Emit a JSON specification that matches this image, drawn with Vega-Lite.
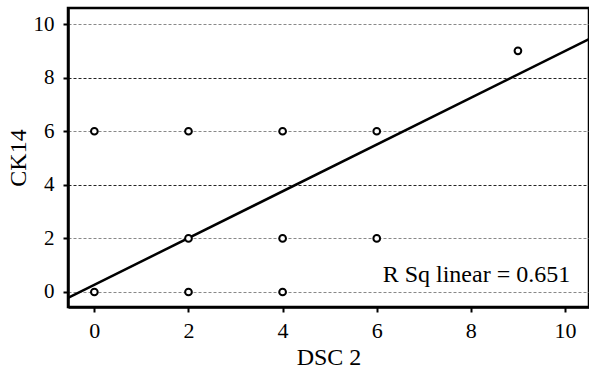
{
  "$schema": "https://vega.github.io/schema/vega-lite/v6.json",
  "width": 521,
  "height": 299,
  "autosize": "none",
  "padding": {"left": 68, "top": 8, "right": 0, "bottom": 64},
  "background": "white",
  "config": {
    "font": "Liberation Serif",
    "view": {"stroke": "black", "strokeWidth": 2.5}
  },
  "datasets": {
    "pts": [
      {"dsc2": 0, "ck14": 0}, {"dsc2": 0, "ck14": 6},
      {"dsc2": 2, "ck14": 0}, {"dsc2": 2, "ck14": 2}, {"dsc2": 2, "ck14": 6},
      {"dsc2": 4, "ck14": 0}, {"dsc2": 4, "ck14": 2}, {"dsc2": 4, "ck14": 6},
      {"dsc2": 6, "ck14": 2}, {"dsc2": 6, "ck14": 6},
      {"dsc2": 9, "ck14": 9}
    ],
    "fit": [
      {"dsc2": -0.56, "ck14": -0.22},
      {"dsc2": 10.51, "ck14": 9.44}
    ],
    "label": [
      {"dsc2": 10.11, "ck14": 0.37, "text": "R Sq linear = 0.651"}
    ]
  },
  "encoding": {
    "x": {
      "field": "dsc2", "type": "quantitative", "title": "DSC 2",
      "scale": {"domain": [-0.56, 10.51], "nice": false, "zero": false},
      "axis": {
        "values": [0, 2, 4, 6, 8, 10], "grid": false,
        "domainColor": "black", "domainWidth": 2.5,
        "tickColor": "black", "tickWidth": 2, "tickSize": 5,
        "labelFont": "Liberation Serif", "labelFontSize": 22, "labelColor": "black", "labelPadding": 8,
        "titleFont": "Liberation Serif", "titleFontSize": 24, "titleFontWeight": "normal", "titleColor": "black", "titlePadding": 4
      }
    },
    "y": {
      "field": "ck14", "type": "quantitative", "title": "CK14",
      "scale": {"domain": [-0.56, 10.6], "nice": false, "zero": false},
      "axis": {
        "values": [0, 2, 4, 6, 8, 10], "grid": true,
        "gridColor": {"condition": {"test": "datum.value == 4 || datum.value == 8", "value": "#222"}, "value": "#888"},
        "gridDash": [3, 2], "gridWidth": 1,
        "domainColor": "black", "domainWidth": 2.5,
        "tickColor": "black", "tickWidth": 2, "tickSize": 5,
        "labelFont": "Liberation Serif", "labelFontSize": 21, "labelColor": "black", "labelPadding": 9,
        "titleFont": "Liberation Serif", "titleFontSize": 24, "titleFontWeight": "normal", "titleColor": "black", "titlePadding": 3
      }
    }
  },
  "layer": [
    {
      "data": {"name": "fit"},
      "mark": {"type": "line", "color": "black", "strokeWidth": 2.5, "clip": true}
    },
    {
      "data": {"name": "pts"},
      "mark": {"type": "point", "shape": "circle", "filled": true, "fill": "white", "stroke": "black", "strokeWidth": 2, "size": 45, "opacity": 1}
    },
    {
      "data": {"name": "label"},
      "mark": {"type": "text", "align": "right", "baseline": "alphabetic", "font": "Liberation Serif", "fontSize": 24, "color": "black"},
      "encoding": {"text": {"field": "text"}}
    }
  ]
}
